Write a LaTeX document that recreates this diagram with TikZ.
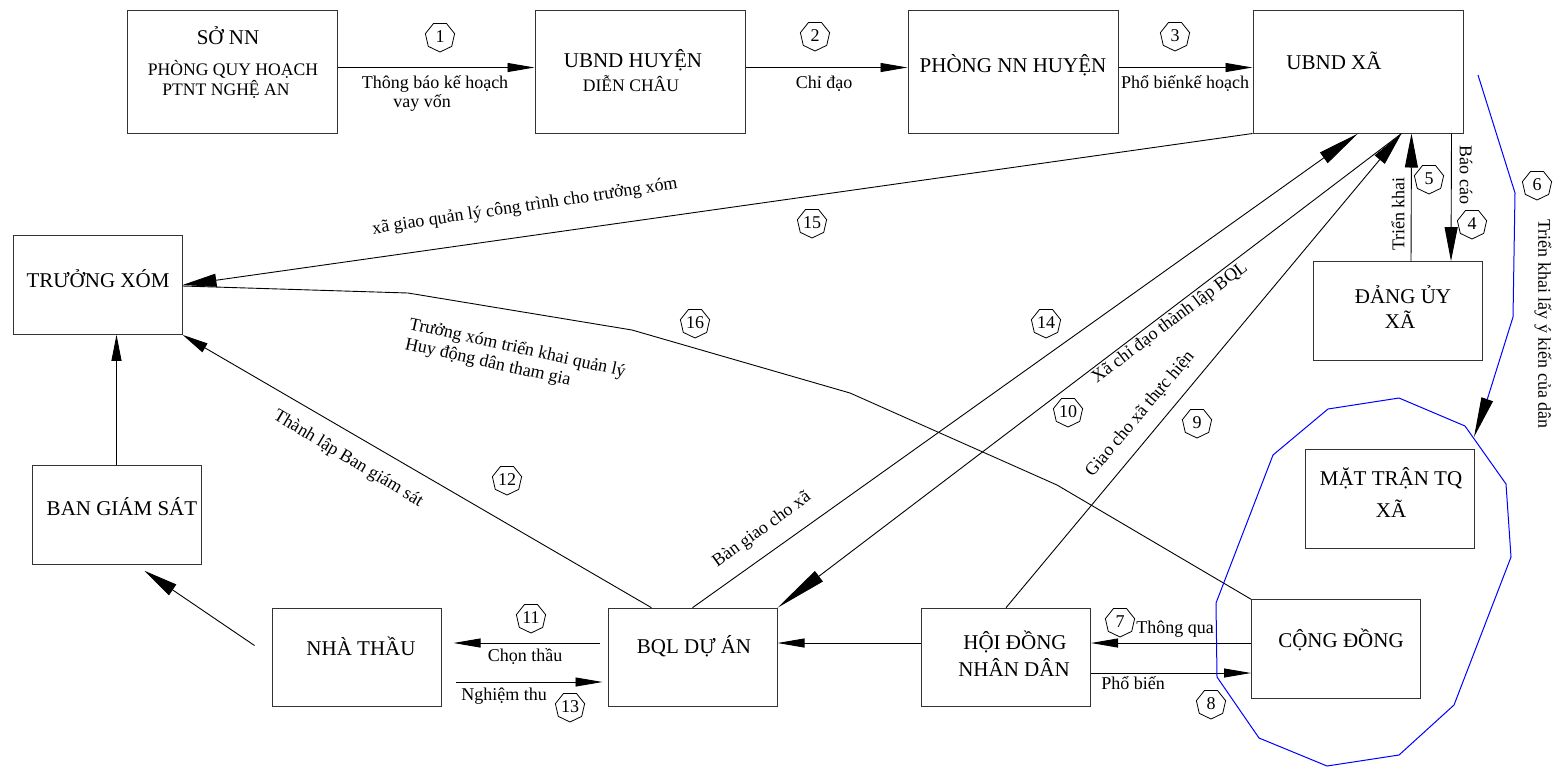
\documentclass[tikz,border=0pt]{standalone}
\usepackage{fontspec}
\setmainfont{Liberation Serif}
\usetikzlibrary{arrows.meta}
\usetikzlibrary{calc}
\usetikzlibrary{shapes.geometric}

\tikzset{
  box/.style={draw=black!80, line width=0.5pt, inner sep=0pt},
  bigbox/.style={box, minimum width=105pt, minimum height=61.5pt},
  smallbox/.style={box, minimum width=84.5pt, minimum height=49.3pt},
  boxtext/.style={font=\fontsize{10.5}{12}\selectfont, anchor=base, inner sep=0pt},
  subtext/.style={font=\fontsize{8.8}{10}\selectfont, anchor=base, inner sep=0pt},
  lbl/.style={font=\fontsize{9}{10}\selectfont, inner sep=0pt},
  num/.style={draw, line width=0.4pt, regular polygon, regular polygon sides=7, shape border rotate=180, inner sep=0pt, minimum size=15pt, font=\fontsize{9}{10}\selectfont},
  conn/.style={line width=0.45pt},
  bluelink/.style={draw=blue, line width=0.5pt},
  arrS/.style={-{Triangle[length=13.5pt,width=4.5pt]}},
  arrM/.style={-{Triangle[length=13pt,width=5pt]}},
  arrL/.style={-{Triangle[length=17pt,width=6.5pt]}},
  arrXL/.style={-{Triangle[length=21pt,width=6.5pt]}},
  arrB/.style={-{Triangle[length=20pt,width=6pt,color=black]}}
}

\begin{document}
\begin{tikzpicture}[x=0.5pt,y=-0.5pt]
        \useasboundingbox (0,0) rectangle (1558,767);

        \node[bigbox] (sonn) at (232,71.5) {};
        \node[bigbox] (ubndh) at (640,71.5) {};
        \node[bigbox] (phong) at (1013,71.5) {};
        \node[bigbox] (ubndx) at (1358,71.5) {};
        \node[smallbox] (dang) at (1398,311) {};
        \node[smallbox] (truong) at (97.5,285) {};
        \node[smallbox] (bgs) at (116.5,515) {};
        \node[smallbox] (nhathau) at (356.5,657.5) {};
        \node[smallbox] (bql) at (692.5,657.5) {};
        \node[smallbox] (hdnd) at (1006,657.5) {};
        \node[smallbox] (congdong) at (1336,649) {};
        \node[smallbox] (mattran) at (1389.5,499) {};

        \node[boxtext] (sonnT) at (228,44) {SỞ NN};
        \node[subtext] (sonnA) at (233,75) {PHÒNG QUY HOẠCH};
        \node[subtext] (sonnB) at (226,95) {PTNT NGHỆ AN};
        \node[boxtext] (ubndhT) at (633,67) {UBND HUYỆN};
        \node[subtext] (ubndhA) at (631,91) {DIỄN CHÂU};
        \node[boxtext] (phongT) at (1013,72) {PHÒNG NN HUYỆN};
        \node[boxtext] (ubndxT) at (1334,69) {UBND XÃ};
        \node[boxtext] (dangT) at (1403,303) {ĐẢNG ỦY};
        \node[boxtext] (dangA) at (1400,328) {XÃ};
        \node[boxtext] (truongT) at (98,287) {TRƯỞNG XÓM};
        \node[boxtext] (bgsT) at (122,515) {BAN GIÁM SÁT};
        \node[boxtext] (nhathauT) at (361,655) {NHÀ THẦU};
        \node[boxtext] (bqlT) at (694,653) {BQL DỰ ÁN};
        \node[boxtext] (hdndT) at (1015,649) {HỘI ĐỒNG};
        \node[boxtext] (hdndA) at (1014,676) {NHÂN DÂN};
        \node[boxtext] (congdongT) at (1341,647) {CỘNG ĐỒNG};
        \node[boxtext] (mattranT) at (1391,485) {MẶT TRẬN TQ};
        \node[boxtext] (mattranA) at (1391,517) {XÃ};

        \coordinate (k16a) at (408,293);
        \coordinate (k16b) at (632,330);
        \coordinate (k16c) at (850,393);
        \coordinate (k16d) at (1057,485);
        \coordinate (b6a) at (1478,75);
        \coordinate (b6b) at (1515,193);
        \coordinate (b6c) at (1513,317);
        \coordinate (b6d) at (1488,397);
        \coordinate (b6e) at (1474,437);

        \draw[conn,arrS] ($(sonn.east)+(0,-4)$) -- ($(ubndh.west)+(0,-4)$);
        \draw[conn,arrS] ($(ubndh.east)+(0,-4)$) -- ($(phong.west)+(0,-4)$);
        \draw[conn,arrS] ($(phong.east)+(0,-4)$) -- ($(ubndx.west)+(0,-4)$);
        \draw[conn,arrL] ($(ubndx.south west)+(199,0)$) -- ($(dang.north west)+(138,0)$);
        \draw[conn,arrL] ($(dang.north west)+(98,0)$) -- ($(ubndx.south west)+(159,0)$);
        \draw[bluelink,arrB] (b6a) -- (b6b) -- (b6c) -- (b6d) -- (b6e);
        \draw[conn,arrS] ($(congdong.west)+(0,-6)$) -- ($(hdnd.east)+(0,-14.5)$);
        \draw[conn,arrS] ($(hdnd.east)+(0,15.5)$) -- ($(congdong.west)+(0,24)$);
        \draw[conn,arrL] (hdnd.north) -- ($(ubndx.south west)+(149,0)$);
        \draw[conn,-{Triangle[length=26pt,width=6.5pt]}] ($(ubndx.south west)+(149,0)$) -- (bql.north east);
        \draw[conn,arrS] ($(bql.west)+(-8,-14.5)$) -- ($(nhathau.east)+(12,-14.5)$);
        \draw[conn,arrM] ($(bql.north west)+(44,0)$) -- (truong.south east);
        \draw[conn,arrS] ($(nhathau.east)+(14,24.5)$) -- ($(bql.west)+(-5,24.5)$);
        \draw[conn,arrXL] (bql.north) -- (ubndx.south);
        \draw[conn,arrL] (ubndx.south west) -- (truong.east);
        \draw[conn] ($(truong.east)+(0,1)$) -- (k16a) -- (k16b) -- (k16c) -- (k16d) -- (congdong.north west);
        \draw[conn,arrS] ($(hdnd.west)+(0,-14.5)$) -- ($(bql.east)+(0,-14.5)$);
        \draw[conn,arrM] (bgs.north) -- (bgs.north |- truong.south);
        \draw[conn,arrL] ($(nhathau.west)+(-17,-12)$) -- ($(bgs.south)+(28,6)$);

        \draw[bluelink] (1328,409) -- (1399,398) -- (1465,426) -- (1506,484) -- (1511,557) -- (1454,705) -- (1399,755) -- (1327,766) -- (1259,738) -- (1217,677) -- (1216,603) -- (1273,455) -- cycle;

        \node[lbl,anchor=base] (l1a) at (435,88) {Thông báo kế hoạch};
        \node[lbl,anchor=base] (l1b) at (422,107) {vay vốn};
        \node[lbl,anchor=base] (l2) at (824,88) {Chỉ đạo};
        \node[lbl,anchor=base] (l3) at (1185,88) {Phổ biếnkế hoạch};
        \node[lbl,rotate=-90] (l4) at (1466,175) {Báo cáo};
        \node[lbl,rotate=90] (l5) at (1398,214) {Triển khai};
        \node[lbl,rotate=-90] (l6) at (1543,324) {Triển khai lấy ý kiến của dân};
        \node[lbl,anchor=base] (l7) at (1175,633) {Thông qua};
        \node[lbl,anchor=base] (l8) at (1133,689) {Phổ biến};
        \node[lbl,rotate=50] (l9) at (1140,414) {Giao cho xã thực hiện};
        \node[lbl,rotate=37] (l10) at (1170,323) {Xã chỉ đạo thành lập BQL};
        \node[lbl,anchor=base] (l11) at (525,661) {Chọn thầu};
        \node[lbl,rotate=-31] (l12) at (348,459) {Thành lập Ban giám sát};
        \node[lbl,anchor=base] (l13) at (504,700) {Nghiệm thu};
        \node[lbl,rotate=36] (l14) at (762,530) {Bàn giao cho xã};
        \node[lbl,rotate=8.5] (l15) at (525,207) {xã giao quản lý công trình cho trưởng xóm};
        \node[lbl,rotate=-12.5,anchor=base west] (l16a) at (408,329) {Trưởng xóm triển khai quản lý};
        \node[lbl,rotate=-12.5,anchor=base west] (l16b) at (404,349) {Huy động dân tham gia};

        \node[num] (n1) at (440,37) {1};
        \node[num] (n2) at (815,36) {2};
        \node[num] (n3) at (1175,36) {3};
        \node[num] (n4) at (1472,224) {4};
        \node[num] (n5) at (1429,179) {5};
        \node[num] (n6) at (1537,185) {6};
        \node[num] (n7) at (1120,622) {7};
        \node[num] (n8) at (1211,704) {8};
        \node[num] (n9) at (1197,423) {9};
        \node[num] (n10) at (1068,412) {10};
        \node[num] (n11) at (531,618) {11};
        \node[num] (n12) at (507,480) {12};
        \node[num] (n13) at (570,707) {13};
        \node[num] (n14) at (1046,323) {14};
        \node[num] (n15) at (812,223) {15};
        \node[num] (n16) at (695,323) {16};
\end{tikzpicture}
\end{document}
